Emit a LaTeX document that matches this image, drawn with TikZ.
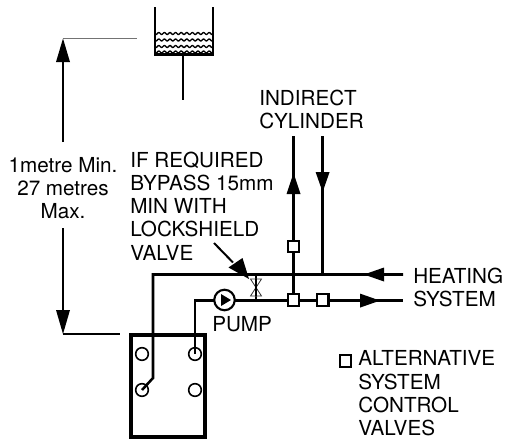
\documentclass[tikz,border=0pt]{standalone}
\usepackage{fontspec}
\setmainfont{TeX Gyre Heros}
\usetikzlibrary{arrows.meta}
\begin{document}
\begin{tikzpicture}[x=0.75pt,y=-0.75pt,
  pipe/.style={line width=1.9pt},
  thin line/.style={line width=0.8pt},
  ctrl/.style={draw,fill=white,line width=1.6pt,minimum size=8.8pt,inner sep=0pt},
  port/.style={circle,draw,fill=none,line width=1.2pt,minimum size=9.5pt,inner sep=0pt},
  label/.style={font=\fontsize{15.5pt}{17.4pt}\selectfont,inner sep=0pt},
  solidhead/.style={black}]
\useasboundingbox (0,0) rectangle (512,439);
% tank
\draw[line width=2.1pt,miter limit=10] (155,7) -- (155,54.5) -- (213,54.5) -- (213,7);
\foreach \y in {33.5,40,46.5,52}{
  \draw[line width=1pt] plot[domain=156:212,samples=80,smooth] (\x,{\y+1.0*cos((\x-156)/5.6*360)});
}
\coordinate (stemtop) at (183,55);
\coordinate (stemend) at (183,100);
\draw[line width=1.4pt] (stemtop) -- (stemend);
% level lines
\coordinate (dt) at (63,38.5);
\coordinate (db) at (63,334);
\draw[line width=1.3pt,black!55] (dt) -- (137,38.5);
\draw[thin line] (db) -- (120,334);
\node[label,align=center] (height) at (63,188) {1metre Min.\\27 metres\\Max.};
\draw[line width=1.5pt] (63,142) -- (63,60);
\draw[line width=1.5pt] (63,228) -- (63,312);
\fill[solidhead] (dt) -- (56,62) -- (70,62) -- cycle;
\fill[solidhead] (db) -- (56,310) -- (70,310) -- cycle;
% boiler
\node[draw,line width=2.3pt,minimum width=55.5pt,minimum height=76.5pt,inner sep=0pt] (boiler) at (168,386) {};
\node[port] (p1) at (142,354) {};
\node[port] (p2) at (195,354) {};
\node[port] (p3) at (142,390) {};
\node[port] (p4) at (195,390) {};
% flow pipes
\draw[pipe] (p3.center) -- (153,378) -- (153,274.5) -- (403,274.5);
\draw[pipe] (p2.center) -- (195,300.6) -- (403,300.6);
\draw[pipe] (293.5,300.6) -- (293.5,136);
\draw[pipe] (322.6,274.5) -- (322.6,136);
% arrowheads on pipes
\fill[solidhead] (364,274.5) -- (384,267.5) -- (384,281.5) -- cycle;
\fill[solidhead] (380,300.6) -- (360,293.6) -- (360,307.6) -- cycle;
\fill[solidhead] (293.5,173) -- (286.5,194) -- (300.5,194) -- cycle;
\fill[solidhead] (322.6,192) -- (315.6,172) -- (329.6,172) -- cycle;
% pump
\node[circle,draw,fill=white,line width=1.6pt,minimum size=15.4pt,inner sep=0pt] (pump) at (224.5,300) {};
\fill[solidhead] (221,294) -- (231,300) -- (221,306) -- cycle;
% bypass valve
\draw[line width=1.3pt] (256,274.5) -- (256,300);
\draw[line width=0.6pt,black!80,fill=white] (250.5,279) -- (261.5,279) -- (250.5,296) -- (261.5,296) -- cycle;
\draw[line width=0.9pt] (256,279) -- (256,296);
\coordinate (vtip) at (249,279);
\coordinate (vstart) at (214,243);
\coordinate (vbase) at (233,262.5);
\draw[line width=1.5pt] (vstart) -- (vbase);
\fill[solidhead] (vtip) -- (228.5,267.5) -- (242.5,258) -- cycle;
% control valves
\node[ctrl] (v1) at (293.5,246.5) {};
\node[ctrl] (v2) at (293.5,300) {};
\node[ctrl] (v3) at (322.6,300) {};
\node[draw,fill=white,line width=1.5pt,minimum size=8.6pt,inner sep=0pt] (leg) at (345.5,361) {};
% labels
\node[label,align=left,anchor=north west] (byp) at (130,151.5) {IF REQUIRED\\BYPASS 15mm\\MIN WITH\\LOCKSHIELD\\VALVE};
\node[label,align=left,anchor=north west] (ind) at (259,89.5) {INDIRECT\\CYLINDER};
\node[label,align=left,anchor=north west] (hs) at (413,267.5) {HEATING\\SYSTEM};
\node[label,anchor=north west] (pl) at (212,316.5) {PUMP};
\node[label,align=left,anchor=north west] (lt) at (358,350.5) {ALTERNATIVE\\SYSTEM\\CONTROL\\VALVES};
\end{tikzpicture}
\end{document}
